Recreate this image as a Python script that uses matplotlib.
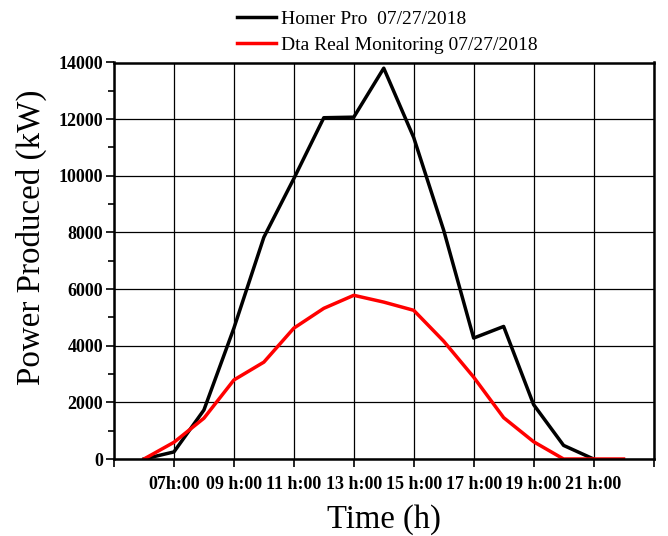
import numpy as np
import matplotlib.pyplot as plt
from matplotlib.ticker import MultipleLocator

plt.rcParams['font.family'] = 'Liberation Serif'

# hours of the day
hours_homer = [6, 7, 8, 9, 10, 11, 12, 13, 14, 15, 16, 17, 18, 19, 20, 21]
homer_pro = [0, 250, 1730, 4620, 7830, 9900, 12050, 12070, 13800, 11350, 8075, 4270, 4680, 1920, 480, 0]

hours_real = [6, 7, 8, 9, 10, 11, 12, 13, 14, 15, 16, 17, 18, 19, 20, 21, 22]
real_monitoring = [0, 590, 1440, 2790, 3420, 4620, 5320, 5780, 5540, 5250, 4160, 2890, 1460, 610, 0, 0, 0]

tick_hours = [5, 7, 9, 11, 13, 15, 17, 19, 21, 23]
tick_labels = ['', '07h:00', '09 h:00', '11 h:00', '13 h:00', '15 h:00', '17 h:00', '19 h:00', '21 h:00', '']

fig = plt.figure(figsize=(6.68, 5.36), dpi=100)
ax = fig.add_axes([114/668, 1 - 459/536, (653.5 - 114)/668, (459 - 62.5)/536])

ax.plot(hours_homer, homer_pro, color='black', lw=2.5, label='Homer Pro  07/27/2018')
ax.plot(hours_real, real_monitoring, color='#ff0000', lw=2.5, label='Dta Real Monitoring 07/27/2018')

ax.set_xlim(5, 23)
ax.set_ylim(0, 14000)
ax.set_xticks(tick_hours)
ax.set_xticklabels(tick_labels, fontweight='bold', fontsize=13)
ax.yaxis.set_major_locator(MultipleLocator(2000))
ax.yaxis.set_minor_locator(MultipleLocator(1000))
for lab in ax.get_yticklabels():
    lab.set_fontweight('bold')
    lab.set_fontsize(13)

ax.grid(True, which='major', color='black', lw=0.9)
ax.tick_params(axis='both', which='major', direction='out', length=6, width=1.2, pad=2)
ax.tick_params(axis='y', which='minor', direction='out', length=4, width=1.2)
ax.tick_params(axis='x', which='major', pad=6)
for s in ax.spines.values():
    s.set_linewidth(1.8)

ax.set_xlabel('Time (h)', fontsize=23.5, labelpad=8)
ax.set_ylabel('Power Produced (kW)', fontsize=23.8)
ax.yaxis.set_label_coords(-0.125, 0.56)

fig.legend(loc='center left', bbox_to_anchor=(237/668, 1 - 32/536), frameon=False,
           fontsize=14, handlelength=2.0, handletextpad=0.25, labelspacing=0.42,
           borderpad=0, borderaxespad=0)

fig.savefig('out.png', dpi=100)
